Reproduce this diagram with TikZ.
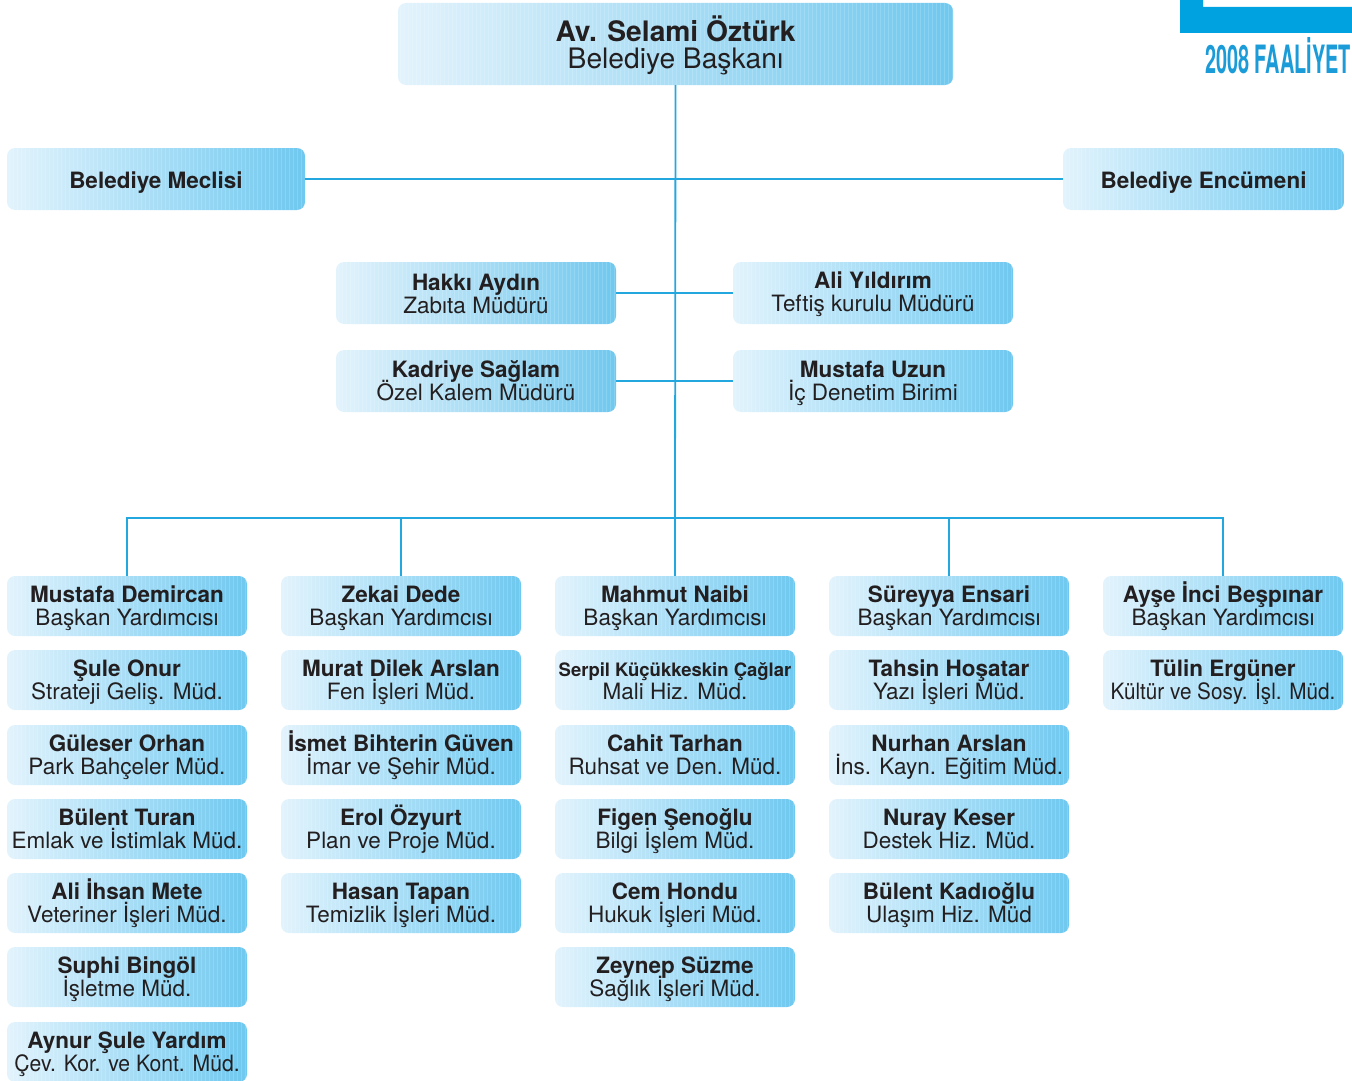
\documentclass[tikz,border=0pt]{standalone}
\usepackage{graphicx}
\usepackage{fontspec}
\setmainfont{TeX Gyre Heros}
\definecolor{bL}{HTML}{E2F3FC}
\definecolor{bR}{HTML}{6FC8EF}
\definecolor{lineC}{HTML}{22A7DF}
\definecolor{txt}{HTML}{231F20}
\definecolor{brand}{HTML}{00A3E0}
\definecolor{brandT}{HTML}{1B9BD7}
\newcommand{\tightls}{\lineskiplimit=-100pt\relax\lineskip=0pt\relax}
\tikzset{
  orgbox/.style={rounded corners=8pt, left color=bL, right color=bR, draw=none,
    minimum width=240pt, minimum height=60pt, align=center, text=txt, inner sep=0pt,
    font=\fontsize{22.5}{23}\selectfont\tightls, text height=38pt, text depth=0pt,
    path picture={\foreach \i in {2,6,...,558}
      \draw[white, opacity=0.16, line width=0.5pt]
        ([xshift=\i pt]path picture bounding box.south west) --
        ([xshift=\i pt]path picture bounding box.north west);}},
  widebox/.style={orgbox, minimum width=280pt, minimum height=62pt},
  onebox/.style={orgbox, minimum height=62pt, text height=20pt, text depth=2pt},
  conn/.style={draw=lineC, line width=1.8pt}
}
\newcommand{\nm}[1]{{\bfseries #1}}
\newcommand{\narrow}[2]{\scalebox{#1}[1]{#2}}
\begin{document}
\begin{tikzpicture}[x=1pt,y=-1pt]
\useasboundingbox (0,0) rectangle (1352,1081);
% brand corner
\fill[brand] (1180,0) -- (1203,0) -- (1203,7) -- (1352,7) -- (1352,33) -- (1180,33) -- cycle;
\node[anchor=base east, inner sep=0pt, text=brandT, font=\bfseries\fontsize{39}{39}\selectfont, xscale=0.51] (brandtxt) at (1351,74) {2008 FAALİYET};
% top
\node[orgbox, minimum width=555pt, minimum height=82pt, font=\fontsize{28.2}{28}\selectfont\tightls, text height=50pt, text depth=0pt] (top) at (675.5,44) {\nm{Av. Selami Öztürk}\\Belediye Başkanı};
\node[onebox, minimum width=298pt] (mec) at (156,179) {\nm{Belediye Meclisi}};
\node[onebox, minimum width=281pt] (enc) at (1203.5,179) {\nm{Belediye Encümeni}};
\node[widebox, text height=40pt] (hak) at (476,293) {\nm{Hakkı Aydın}\\Zabıta Müdürü};
\node[widebox, text height=36pt] (ali) at (873,293) {\nm{Ali Yıldırım}\\Teftiş kurulu Müdürü};
\node[widebox] (kad) at (476,381) {\nm{Kadriye Sağlam}\\Özel Kalem Müdürü};
\node[widebox] (uzn) at (873,381) {\nm{Mustafa Uzun}\\İç Denetim Birimi};
% column 1
\node[orgbox] (a1) at (127,606) {\nm{Mustafa Demircan}\\Başkan Yardımcısı};
\node[orgbox] (a2) at (127,680) {\nm{Şule Onur}\\Strateji Geliş. Müd.};
\node[orgbox] (a3) at (127,755) {\nm{Güleser Orhan}\\Park Bahçeler Müd.};
\node[orgbox] (a4) at (127,829) {\nm{Bülent Turan}\\Emlak ve İstimlak Müd.};
\node[orgbox] (a5) at (127,903) {\nm{Ali İhsan Mete}\\Veteriner İşleri Müd.};
\node[orgbox] (a6) at (127,977) {\nm{Suphi Bingöl}\\İşletme Müd.};
\node[orgbox] (a7) at (127,1052) {\nm{Aynur Şule Yardım}\\\narrow{0.94}{Çev. Kor. ve Kont. Müd.}};
% column 2
\node[orgbox] (b1) at (401,606) {\nm{Zekai Dede}\\Başkan Yardımcısı};
\node[orgbox] (b2) at (401,680) {\nm{Murat Dilek Arslan}\\Fen İşleri Müd.};
\node[orgbox] (b3) at (401,755) {\nm{İsmet Bihterin Güven}\\İmar ve Şehir Müd.};
\node[orgbox] (b4) at (401,829) {\nm{Erol Özyurt}\\Plan ve Proje Müd.};
\node[orgbox] (b5) at (401,903) {\nm{Hasan Tapan}\\Temizlik İşleri Müd.};
% column 3
\node[orgbox] (c1) at (675,606) {\nm{Mahmut Naibi}\\Başkan Yardımcısı};
\node[orgbox] (c2) at (675,680) {{\fontsize{18.5}{23}\selectfont\nm{Serpil Küçükkeskin Çağlar}}\\Mali Hiz. Müd.};
\node[orgbox] (c3) at (675,755) {\nm{Cahit Tarhan}\\Ruhsat ve Den. Müd.};
\node[orgbox] (c4) at (675,829) {\nm{Figen Şenoğlu}\\Bilgi İşlem Müd.};
\node[orgbox] (c5) at (675,903) {\nm{Cem Hondu}\\Hukuk İşleri Müd.};
\node[orgbox] (c6) at (675,977) {\nm{Zeynep Süzme}\\Sağlık İşleri Müd.};
% column 4
\node[orgbox] (d1) at (949,606) {\nm{Süreyya Ensari}\\Başkan Yardımcısı};
\node[orgbox] (d2) at (949,680) {\nm{Tahsin Hoşatar}\\Yazı İşleri Müd.};
\node[orgbox] (d3) at (949,755) {\nm{Nurhan Arslan}\\İns. Kayn. Eğitim Müd.};
\node[orgbox] (d4) at (949,829) {\nm{Nuray Keser}\\Destek Hiz. Müd.};
\node[orgbox] (d5) at (949,903) {\nm{Bülent Kadıoğlu}\\Ulaşım Hiz. Müd};
% column 5
\node[orgbox] (e1) at (1223,606) {\nm{Ayşe İnci Beşpınar}\\Başkan Yardımcısı};
\node[orgbox] (e2) at (1223,680) {\nm{Tülin Ergüner}\\\narrow{0.92}{Kültür ve Sosy. İşl. Müd.}};
% connectors
\coordinate (bus) at (675,518);
\draw[conn] (top.south) -- (bus);
\draw[conn] (mec.east) -- (enc.west);
\draw[conn] (hak.east) -- (ali.west);
\draw[conn] (kad.east) -- (uzn.west);
\draw[conn] (a1.north) |- (bus) -| (e1.north);
\draw[conn] (b1.north) -- (b1.north |- bus);
\draw[conn] (c1.north) -- (bus);
\draw[conn] (d1.north) -- (d1.north |- bus);
\end{tikzpicture}
\end{document}
